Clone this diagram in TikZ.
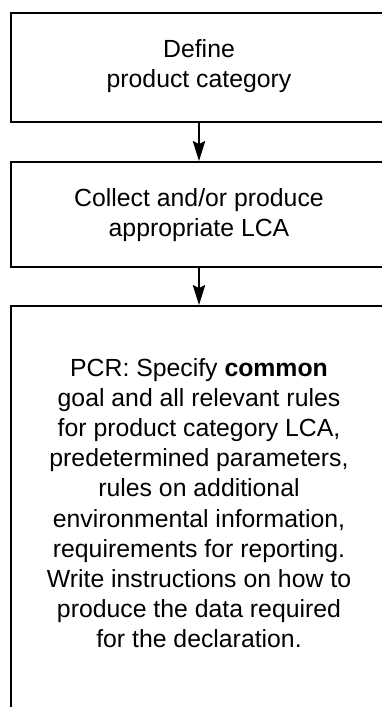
\documentclass[tikz,border=0pt]{standalone}
\usepackage{fontspec}
\setmainfont{Liberation Sans}
\usetikzlibrary{arrows.meta}
\begin{document}
\begin{tikzpicture}[x=1pt,y=1pt,
  stepbox/.style={draw=black, line width=1.5pt, minimum width=376pt, inner sep=0pt, anchor=north, fill=white},
  boxtext/.style={align=center, inner sep=0pt, font=\fontsize{24.8pt}{30.2pt}\selectfont},
  flow/.style={line width=1.5pt, -{Stealth[length=20pt,width=12.5pt,inset=3pt]}}]
\useasboundingbox (0,0) rectangle (382,-707);
\clip (0,0) rectangle (382,-707);
\fill[white] (0,0) rectangle (382,-707);
\node[stepbox, minimum height=109pt] (b1) at (199,-12) {};
\node[stepbox, minimum height=105pt] (b2) at (199,-161) {};
\node[stepbox, minimum height=430pt] (b3) at (199,-305) {};
\node[boxtext] (t1) at ([yshift=1pt]b1.center) {Define\\product category};
\node[boxtext] (t2) at ([yshift=-1pt]b2.center) {Collect and/or produce\\appropriate LCA};
\node[boxtext, anchor=north] (t3) at (199,-358) {PCR: Specify \textbf{common}\\goal and all relevant rules\\for product category LCA,\\predetermined parameters,\\rules on additional\\environmental information,\\requirements for reporting.\\Write instructions on how to\\produce the data required\\for the declaration.};
\draw[flow] (b1.south) -- (b2.north);
\draw[flow] (b2.south) -- (b3.north);
\end{tikzpicture}
\end{document}
